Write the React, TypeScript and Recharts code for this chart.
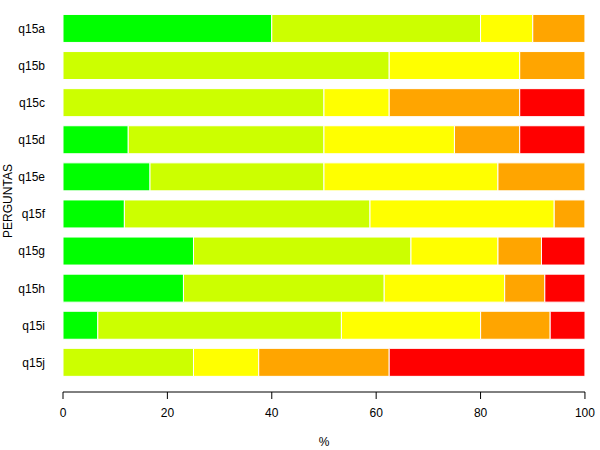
import { BarChart, Bar, XAxis, YAxis } from "recharts";

const perguntas = ["q15a", "q15b", "q15c", "q15d", "q15e", "q15f", "q15g", "q15h", "q15i", "q15j"];

// percent per answer level, same order as perguntas
const verde = [40, 0, 0, 12.5, 16.67, 11.76, 25, 23.08, 6.67, 0];
const verdeAmarelo = [40, 62.5, 50, 37.5, 33.33, 47.06, 41.67, 38.46, 46.67, 25];
const amarelo = [10, 25, 12.5, 25, 33.33, 35.29, 16.67, 23.08, 26.67, 12.5];
const laranja = [10, 12.5, 25, 12.5, 16.67, 5.88, 8.33, 7.69, 13.33, 25];
const vermelho = [0, 0, 12.5, 12.5, 0, 0, 8.33, 7.69, 6.67, 37.5];

const xTicks = [0, 20, 40, 60, 80, 100];

const series = [
  { key: "verde", values: verde, color: "#00ff00" },
  { key: "verdeAmarelo", values: verdeAmarelo, color: "#ccff00" },
  { key: "amarelo", values: amarelo, color: "#ffff00" },
  { key: "laranja", values: laranja, color: "#ffa500" },
  { key: "vermelho", values: vermelho, color: "#ff0000" },
];

const data = perguntas.map((name, i) => {
  const row: Record<string, string | number> = { name };
  series.forEach((s) => {
    row[s.key] = s.values[i];
  });
  return row;
});

const font = "Arial, 'Liberation Sans', sans-serif";

export default function App() {
  return (
    <div style={{ position: "absolute", left: 0, top: 0, fontFamily: font }}>
      <BarChart
        width={600}
        height={450}
        data={data}
        layout="vertical"
        barCategoryGap="12%"
        margin={{ top: 10, right: 15, left: 0, bottom: 0 }}
      >
        <XAxis
          type="number"
          domain={[0, 100]}
          ticks={xTicks}
          height={58}
          tickSize={7}
          tickMargin={9}
          axisLine={{ stroke: "#000" }}
          tickLine={{ stroke: "#000" }}
          tick={{ fill: "#000", fontSize: 12, fontFamily: font }}
          label={{
            value: "%",
            position: "insideBottom",
            offset: 4,
            fill: "#000",
            fontSize: 12,
            fontFamily: font,
          }}
        />
        <YAxis
          type="category"
          dataKey="name"
          width={63}
          padding={{ top: 0, bottom: 11 }}
          axisLine={false}
          tickLine={false}
          tickSize={8}
          tickMargin={10}
          tick={{ fill: "#000", fontSize: 12, fontFamily: font }}
          label={{
            value: "PERGUNTAS",
            angle: -90,
            position: "insideLeft",
            offset: 8,
            fill: "#000",
            fontSize: 12,
            fontFamily: font,
            style: { textAnchor: "middle" },
          }}
        />
        {series.map((s) => (
          <Bar
            key={s.key}
            dataKey={s.key}
            stackId="a"
            fill={s.color}
            stroke="#fff"
            strokeWidth={1}
            isAnimationActive={false}
          />
        ))}
      </BarChart>
    </div>
  );
}
